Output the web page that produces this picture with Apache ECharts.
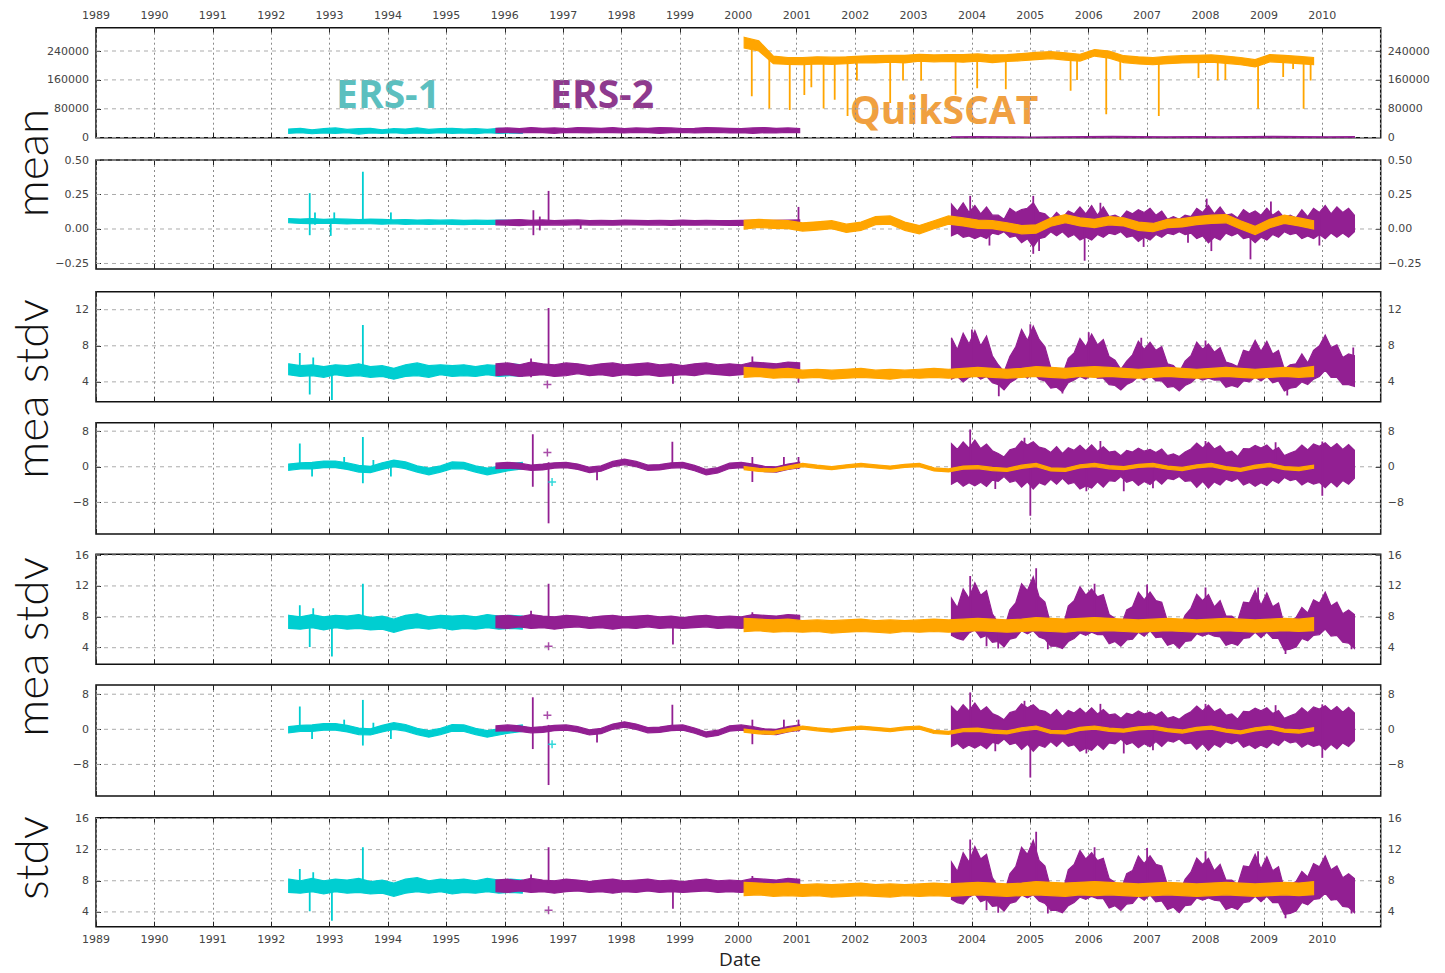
<!DOCTYPE html>
<html><head><meta charset="utf-8">
<script src="https://cdn.jsdelivr.net/npm/echarts@6/dist/echarts.min.js"></script>
<style>html,body{margin:0;padding:0;background:#fff}#c{width:1445px;height:973px}</style>
</head><body><div id="c"></div>
<script>
// ---------- sampling times of the envelopes ----------
const ers1Time = {x0: 1992.3, step: 0.2};     // ERS-1
const ers2aTime = {x0: 1995.85, step: 0.2};   // ERS-2 (first period)
const qsTime = {x0: 2000.1, step: 0.25};      // QuikSCAT
const ers2bTime = {x0: 2003.65, step: 0.1};   // ERS-2 (second period)
const cntErs2bTime = {x0: 2003.65, step: 0.46};

// ---------- x tick labels ----------
const yearLabels = ['1989','1990','1991','1992','1993','1994','1995','1996','1997','1998','1999','2000','2001','2002','2003','2004','2005','2006','2007','2008','2009','2010'];

// ---------- panel 1 : counts ----------
const cntTicks = [0, 80000, 160000, 240000];
const cntLabels = ['0','80000','160000','240000'];
const cntErs1Lo = [12000,14000,11000,13000,12000,14000,10000,13000,12000,14000,11000,13000,12000,14000,12000,13000,11000,14000,12000,13000,12000];
const cntErs1Hi = [24000,26000,22000,25000,27000,23000,25000,26000,22000,25000,24000,27000,23000,25000,26000,24000,25000,23000,26000,24000,25000];
const cntErs2aLo = [14000,15000,13000,15000,14000,12000,15000,14000,13000,15000,14000,13000,15000,14000,12000,14000,15000,13000,14000,15000,13000,14000,12000,14000,13000,15000,14000];
const cntErs2aHi = [26000,27000,25000,28000,26000,27000,25000,28000,27000,26000,28000,25000,27000,26000,28000,27000,25000,26000,28000,27000,26000,25000,27000,28000,26000,27000,25000];
const cntErs2bLo = [0,0,0,0,0,0,0,0,0,0,0,0,0,0,0,0];
const cntErs2bHi = [2500,3000,2500,2000,2500,3000,3500,3000,2500,3000,2500,3000,3500,3000,2500,3000];
const cntQsLo = [248000,240000,205000,203000,202000,204000,203000,205000,208000,207000,209000,207000,212000,210000,211000,209000,212000,208000,211000,213000,216000,219000,215000,212000,226000,220000,208000,204000,202000,205000,207000,208000,209000,206000,202000,196000,210000,208000,205000,202000];
const cntQsHi = [278000,268000,226000,222000,222000,224000,223000,224000,226000,227000,228000,228000,231000,229000,230000,230000,232000,229000,230000,233000,236000,238000,235000,231000,244000,240000,227000,224000,222000,225000,227000,228000,229000,226000,222000,216000,230000,228000,225000,222000];
const cntQsSpikes = [[2000.23,115000,250000],[2000.53,81000,225000],[2000.88,77000,215000],[2001.13,118000,213000],[2001.25,140000,213000],[2001.46,81000,214000],[2001.65,105000,214000],[2001.87,60000,215000],[2002.03,158000,218000],[2002.6,96000,219000],[2002.82,158000,218000],[2003.13,158000,222000],[2003.72,119000,221000],[2004.09,137000,222000],[2004.58,134000,221000],[2005.69,130000,226000],[2005.8,160000,222000],[2006.3,65000,232000],[2006.54,160000,218000],[2007.2,60000,212000],[2007.88,165000,218000],[2008.21,158000,218000],[2008.34,160000,216000],[2008.9,80000,206000],[2009.33,168000,218000],[2009.5,190000,217000],[2009.68,80000,215000],[2009.8,158000,212000]];

// ---------- panel 2 : mean ----------
const meanTicks = [-0.25, 0, 0.25, 0.5];
const meanLabels = ['\u22120.25','0.00','0.25','0.50'];
const meanErs1Lo = [0.045,0.040,0.038,0.042,0.040,0.036,0.040,0.038,0.035,0.038,0.034,0.036,0.033,0.036,0.034,0.032,0.035,0.033,0.035,0.034,0.036];
const meanErs1Hi = [0.075,0.072,0.076,0.070,0.074,0.071,0.068,0.072,0.069,0.066,0.068,0.065,0.067,0.064,0.066,0.063,0.065,0.062,0.064,0.063,0.062];
const meanErs1Spikes = [[1992.66,-0.045,0.26],[1992.75,0.03,0.12],[1993.02,-0.05,0.06],[1993.08,0.05,0.12],[1993.57,0.05,0.415],[1994.05,0.05,0.12]];
const meanErs2aLo = [0.030,0.028,0.025,0.030,0.027,0.030,0.028,0.032,0.028,0.030,0.027,0.030,0.029,0.028,0.030,0.026,0.029,0.027,0.030,0.028,0.026,0.028,0.025,0.027,0.026,0.028,0.030];
const meanErs2aHi = [0.062,0.065,0.068,0.062,0.066,0.060,0.064,0.066,0.061,0.063,0.060,0.064,0.062,0.060,0.063,0.061,0.064,0.060,0.062,0.061,0.060,0.063,0.062,0.060,0.062,0.064,0.066];
const meanErs2aSpikes = [[1996.49,-0.045,0.136],[1996.6,-0.01,0.09],[1996.75,0.04,0.276],[1997.3,0.0,0.05],[2001.03,0.03,0.16]];
const meanQsLo = [0.000,0.012,0.005,0.002,-0.015,-0.008,0.002,-0.025,-0.010,0.032,0.035,-0.010,-0.035,0.002,0.035,0.022,0.005,0.002,-0.015,-0.035,-0.030,0.020,0.045,0.022,0.010,0.030,0.022,-0.010,-0.020,0.010,0.015,0.032,0.040,0.045,0.000,-0.040,0.010,0.040,0.022,0.000];
const meanQsHi = [0.062,0.070,0.065,0.060,0.045,0.052,0.060,0.035,0.050,0.090,0.095,0.050,0.025,0.060,0.095,0.080,0.065,0.060,0.045,0.025,0.030,0.080,0.105,0.080,0.070,0.090,0.080,0.050,0.040,0.070,0.075,0.090,0.100,0.105,0.060,0.020,0.070,0.100,0.080,0.060];
const meanErs2bLo = [-0.05,-0.03,-0.06,-0.05,-0.07,-0.05,-0.07,-0.03,-0.04,-0.02,-0.06,-0.05,-0.10,-0.07,-0.13,-0.07,-0.06,-0.02,-0.05,-0.02,-0.06,-0.04,-0.08,-0.06,-0.08,-0.04,-0.06,-0.03,-0.04,-0.02,-0.06,-0.05,-0.09,-0.06,-0.08,-0.04,-0.06,-0.03,-0.04,-0.02,-0.04,-0.03,-0.07,-0.05,-0.10,-0.06,-0.08,-0.03,-0.05,-0.03,-0.07,-0.06,-0.10,-0.06,-0.08,-0.04,-0.06,-0.02,-0.04,-0.03,-0.07,-0.05,-0.07,-0.04,-0.07,-0.03,-0.06,-0.03,-0.06,-0.02];
const meanErs2bHi = [0.18,0.13,0.19,0.12,0.17,0.11,0.16,0.10,0.10,0.07,0.15,0.12,0.14,0.15,0.19,0.12,0.11,0.07,0.12,0.08,0.13,0.11,0.16,0.11,0.17,0.10,0.16,0.09,0.10,0.08,0.13,0.11,0.14,0.12,0.15,0.10,0.13,0.07,0.09,0.07,0.10,0.09,0.15,0.12,0.17,0.11,0.16,0.10,0.11,0.08,0.14,0.11,0.13,0.10,0.15,0.10,0.13,0.08,0.10,0.08,0.14,0.09,0.15,0.12,0.17,0.11,0.16,0.12,0.15,0.10];
const meanErs2bSpikes = [[2003.97,0.05,0.24],[2004.3,-0.12,0.0],[2005.05,-0.18,0.24],[2005.15,-0.16,0.0],[2005.93,-0.23,0.05],[2006.2,0.0,0.19],[2006.94,-0.13,0.05],[2007.7,-0.1,0.0],[2008.02,0.05,0.22],[2008.1,-0.16,0.0],[2008.77,-0.22,0.0],[2009.12,0.0,0.2],[2009.95,-0.12,0.1]];

// ---------- panel 3 : mean stdv ----------
const msTicks = [4, 8, 12];
const msLabels = ['4','8','12'];
const msErs1Lo = [4.8,4.6,4.7,4.5,4.8,4.6,4.7,4.5,4.6,4.3,4.6,4.7,4.5,4.8,4.6,4.7,4.6,4.8,4.6,4.7,4.6];
const msErs1Hi = [6.0,5.8,5.9,5.7,5.9,5.8,6.0,5.7,5.8,5.5,5.9,6.1,5.8,5.9,5.8,5.9,5.7,5.9,5.8,6.0,5.9];
const msErs1Spikes = [[1992.49,5,7.2],[1992.66,2.6,5.5],[1992.72,5,6.7],[1993.04,2.0,5.5],[1993.57,5.5,10.3]];
const msErs2aLo = [4.7,4.8,4.6,4.7,4.8,4.6,4.7,4.9,4.7,4.8,4.6,4.8,4.7,4.8,4.6,4.7,4.8,4.7,4.9,4.8,4.7,4.8,4.9,5.0,5.0,4.9,5.0];
const msErs2aHi = [6.0,6.1,5.9,6.2,6.0,5.9,6.1,6.0,5.8,6.0,6.1,5.9,6.0,6.1,5.9,6.0,5.8,6.0,6.1,5.9,6.0,5.9,6.2,6.1,6.0,6.2,6.1];
const msErs2aSpikes = [[1996.45,4.5,6.6],[1996.75,5.5,12.2],[1998.88,3.8,5.2],[2000.24,5.5,6.8],[2001.03,3.9,5.2]];
const msErs2aPlus = [[1996.73,3.7]];
const msQsLo = [4.5,4.6,4.4,4.5,4.4,4.5,4.3,4.4,4.5,4.4,4.3,4.5,4.4,4.5,4.4,4.5,4.6,4.5,4.4,4.5,4.6,4.5,4.4,4.6,4.5,4.6,4.5,4.4,4.5,4.6,4.5,4.4,4.5,4.6,4.5,4.4,4.5,4.6,4.5,4.6];
const msQsHi = [5.6,5.5,5.4,5.5,5.3,5.4,5.3,5.4,5.5,5.3,5.4,5.3,5.4,5.5,5.4,5.5,5.6,5.5,5.4,5.5,5.7,5.6,5.5,5.6,5.7,5.6,5.5,5.4,5.5,5.6,5.5,5.4,5.5,5.6,5.5,5.4,5.5,5.6,5.5,5.7];
const msErs2bLo = [4.3,4.6,4.0,4.5,4.8,4.3,4.6,3.9,3.7,3.1,3.9,4.3,4.9,4.4,5.0,4.3,4.1,3.3,3.4,2.9,3.9,4.2,4.6,4.3,4.8,4.4,4.4,3.7,3.6,3.1,3.7,4.0,4.6,4.2,4.7,4.1,4.1,3.4,3.5,3.0,3.6,3.9,4.5,4.2,4.4,4.2,4.2,3.4,3.6,3.4,4.1,4.0,4.5,4.1,4.6,3.9,4.1,3.0,3.3,3.4,4.0,3.7,4.3,4.6,5.3,4.5,4.5,3.7,3.7,3.5];
const msErs2bHi = [8.9,7.6,9.4,8.2,9.7,8.0,9.1,6.9,5.9,5.1,6.8,7.9,9.8,8.6,10.2,8.7,7.9,5.6,5.5,4.8,6.6,7.2,8.8,7.9,9.3,8.1,8.7,6.8,6.4,5.4,6.3,7.0,8.5,7.6,8.4,7.5,7.9,6.0,5.8,5.1,6.3,6.9,8.4,7.6,8.2,7.3,7.8,6.2,6.0,5.7,7.5,7.3,8.6,7.4,8.5,7.1,7.5,5.4,5.9,6.0,7.1,6.1,7.5,8.0,9.2,7.8,8.1,6.7,7.1,6.9];
const msErs2bSpikes = [[2004.0,6,9.8],[2004.46,2.4,5],[2005.0,6,10.4],[2005.55,2.7,4.5],[2006.0,6,9.5],[2006.9,6,8.9],[2008.0,6,8.6],[2009.4,2.5,4.5],[2010.53,4,7.8]];

// ---------- panels 4 and 6 : mean difference ----------
const mdTicks = [-8, 0, 8];
const mdLabels = ['\u22128','0','8'];
const mdErs1Lo = [-0.8,-0.5,-0.5,-0.2,-0.2,-0.6,-1.2,-1.3,-0.6,0.0,-0.4,-1.2,-1.8,-1.2,-0.4,-0.5,-1.2,-1.8,-1.3,-0.8,-0.5];
const mdErs1Hi = [0.6,0.9,1.0,1.3,1.3,0.9,0.3,0.1,0.9,1.5,1.1,0.2,-0.3,0.2,1.1,1.0,0.2,-0.3,0.1,0.7,1.0];
const mdErs1Spikes = [[1992.49,0,5.2],[1992.7,-2.2,0.5],[1993.25,0,2.2],[1993.57,-3.7,6.7],[1993.75,0,1.5],[1994.05,-2.2,0.5]];
const mdErs1Plus = [[1996.81,-3.4]];
const mdErs2aLo = [-0.4,-0.3,-0.5,-0.8,-0.7,-0.3,-0.2,-0.6,-1.3,-1.0,0.0,0.5,0.0,-0.8,-0.7,-0.3,-0.2,-0.9,-1.8,-1.4,-0.4,-0.2,-0.6,-1.1,-1.2,-0.6,-0.2];
const mdErs2aHi = [0.8,1.0,0.8,0.4,0.6,0.9,1.0,0.6,-0.1,0.2,1.2,1.7,1.2,0.4,0.5,0.9,1.0,0.3,-0.6,-0.2,0.8,1.0,0.6,0.1,0.0,0.6,1.0];
const mdErs2aSpikes = [[1996.48,-4.5,7.3],[1996.75,-12.7,1.0],[1997.58,-3.0,0],[1998.87,0,5.6],[2000.24,-3.4,2.2],[2000.78,0,2.2],[2001.03,-0.5,2.2]];
const mdErs2aPlus = [[1996.73,3.2]];
const mdQsLo = [-0.65,-1.05,-1.15,-0.55,0.05,-0.35,-0.65,-0.25,0.05,-0.25,-0.55,-0.15,0.05,-0.95,-1.15,-0.55,-0.45,-0.85,-1.05,-0.35,0.05,-0.95,-1.05,-0.25,0.05,-0.45,-0.65,-0.15,0.05,-0.55,-0.85,-0.25,0.05,-0.65,-1.05,-0.35,0.05,-0.65,-0.85,-0.35];
const mdQsHi = [0.05,-0.35,-0.45,0.15,0.75,0.35,0.05,0.45,0.75,0.45,0.15,0.55,0.75,-0.25,-0.45,0.15,0.25,-0.15,-0.35,0.35,0.75,-0.25,-0.35,0.45,0.75,0.25,0.05,0.55,0.75,0.15,-0.15,0.45,0.75,0.05,-0.35,0.35,0.75,0.05,-0.15,0.35];
const mdErs2bLo = [-3.9,-3.2,-4.4,-3.6,-4.3,-3.5,-4.4,-3.0,-3.3,-2.2,-3.5,-3.1,-4.6,-3.4,-5.0,-3.6,-4.1,-2.8,-3.9,-2.6,-3.9,-3.5,-5.0,-4.3,-4.8,-3.4,-4.6,-3.1,-3.3,-2.2,-3.5,-3.0,-4.2,-3.3,-4.0,-2.8,-3.9,-2.6,-2.9,-2.2,-3.3,-3.1,-4.6,-3.3,-4.8,-3.4,-4.1,-2.8,-3.3,-2.6,-4.1,-3.5,-4.4,-3.6,-4.2,-3.0,-3.7,-2.4,-3.1,-2.8,-4.1,-3.3,-3.9,-3.5,-4.7,-3.4,-4.5,-3.1,-3.9,-2.6];
const mdErs2bHi = [5.2,3.9,5.6,4.2,6.0,4.1,5.1,3.6,3.0,2.2,3.8,4.2,5.8,4.9,5.6,4.4,4.1,3.2,4.5,3.0,4.3,3.7,4.8,3.6,4.9,3.5,4.5,3.3,3.5,2.5,3.7,3.3,4.2,3.5,3.9,3.2,4.0,2.5,2.9,2.3,3.3,4.0,5.3,4.2,5.5,4.0,4.7,3.2,3.5,2.3,4.1,4.0,4.8,4.2,4.9,3.6,4.3,2.5,3.1,3.6,4.9,3.8,5.1,4.6,5.4,4.2,5.2,3.9,5.0,3.7];
const mdErs2bSpikes = [[2003.97,0,8.4],[2004.4,-5,0],[2004.9,0,6.5],[2005.0,-11,0],[2005.96,-5.5,0],[2006.2,0,5.8],[2006.6,-5.5,0],[2007.1,-4.8,0],[2008.0,0,5.8],[2009.2,0,5.5],[2010.0,-6.5,5.7]];

// ---------- panels 5 and 7 : stdv ----------
const sdTicks = [4, 8, 12, 16];
const sdLabels = ['4','8','12','16'];
const sdErs1Lo = [6.5,6.4,6.6,6.3,6.6,6.4,6.5,6.3,6.4,6.0,6.4,6.6,6.4,6.6,6.3,6.5,6.4,6.6,6.4,6.5,6.4];
const sdErs1Hi = [8.2,8.0,8.3,8.0,8.2,8.1,8.3,7.9,8.1,7.7,8.2,8.4,8.0,8.2,8.1,8.2,8.0,8.3,8.1,8.2,8.1];
const sdErs1Spikes = [[1992.49,7.5,9.5],[1992.66,4.1,7],[1992.72,7.5,9.1],[1993.04,2.85,7],[1993.57,7.5,12.3]];
const sdErs2aLo = [6.6,6.5,6.7,6.5,6.6,6.4,6.6,6.7,6.5,6.6,6.4,6.6,6.5,6.7,6.5,6.6,6.5,6.6,6.7,6.5,6.6,6.5,6.7,6.8,6.7,6.6,6.8];
const sdErs2aHi = [8.1,8.2,8.0,8.3,8.1,8.0,8.2,8.1,7.9,8.1,8.2,8.0,8.1,8.2,8.0,8.1,7.9,8.1,8.2,8.0,8.1,8.0,8.3,8.2,8.1,8.3,8.2];
const sdErs2aSpikes = [[1996.45,6.5,8.8],[1996.75,7.5,12.3],[1998.88,4.4,7],[2000.24,7.5,8.6]];
const sdErs2aPlus = [[1996.75,4.2]];
const sdQsLo = [6.1,6.2,6.0,6.1,6.0,6.1,5.9,6.0,6.1,6.0,5.9,6.1,6.0,6.1,6.0,6.1,6.2,6.1,6.0,6.1,6.2,6.1,6.0,6.2,6.1,6.2,6.1,6.0,6.1,6.2,6.1,6.0,6.1,6.2,6.1,6.0,6.1,6.2,6.1,6.2];
const sdQsHi = [7.8,7.7,7.6,7.7,7.5,7.6,7.5,7.6,7.7,7.5,7.6,7.5,7.6,7.7,7.6,7.7,7.8,7.7,7.6,7.7,7.9,7.8,7.7,7.8,7.9,7.8,7.7,7.6,7.7,7.8,7.7,7.6,7.7,7.8,7.7,7.6,7.7,7.8,7.7,7.9];
const sdErs2bLo = [5.6,5.2,5.0,5.9,6.3,5.3,5.6,4.7,4.8,4.1,5.1,5.3,6.2,5.8,6.2,5.4,5.1,4.2,4.2,3.9,4.8,5.2,5.9,5.6,6.0,5.7,5.7,4.5,4.8,4.2,5.0,5.1,6.0,5.5,6.2,5.3,5.4,4.3,4.6,3.9,4.8,4.9,5.8,5.5,5.8,5.5,5.4,4.3,4.6,4.3,5.2,5.3,6.0,5.3,6.0,5.2,5.2,3.7,3.8,4.1,5.2,4.9,5.6,5.7,6.4,5.5,5.6,4.7,4.6,3.9];
const sdErs2bHi = [10.4,9.2,11.6,10.4,12.4,10.8,11.4,8.4,7.2,6.4,8.9,9.8,12.3,11.4,13.2,10.6,9.9,7.0,7.1,6.5,9.4,10.1,11.9,10.8,11.6,10.6,10.9,8.3,7.8,6.8,8.9,9.3,11.2,10.2,11.2,10.1,9.9,7.4,7.3,6.4,8.2,9.1,10.9,10.1,10.9,9.3,10.1,8.1,8.1,7.5,9.9,9.8,11.4,9.5,11.1,9.3,9.8,6.9,7.5,7.9,9.2,8.5,10.2,9.8,11.2,9.4,9.9,8.4,8.9,8.3];
const sdErs2bSpikes = [[2003.97,8,13.3],[2004.25,4.2,6.5],[2004.45,3.9,6],[2005.1,8,14.3],[2005.3,3.8,6],[2006.1,8,12.3],[2007.0,8,12.2],[2008.0,8,11.8],[2008.9,8,11.8],[2009.37,3.2,6],[2010.5,3.8,6.5]];

// ---------- styles / layout ----------
const C_ERS1 = '#00ced1', C_ERS2 = '#921f92', C_QS = '#ffa500';
const Z = {[C_ERS1]: 2, [C_ERS2]: 3, [C_QS]: 4};
const layout = [
  {top: 27.7, height: 110, min: 0, max: 304500},
  {top: 160, height: 109, min: -0.29, max: 0.5},
  {top: 291.7, height: 110, min: 1.8, max: 14},
  {top: 422.7, height: 111.3, min: -15.1, max: 9.9},
  {top: 554.3, height: 110, min: 1.85, max: 16.1},
  {top: 685, height: 111, min: -15.2, max: 10.1},
  {top: 817.7, height: 109, min: 2.1, max: 16.1}
];

const panelCnt = {ticks: cntTicks, labels: cntLabels,
  bands: [[C_ERS1, ers1Time, cntErs1Lo, cntErs1Hi], [C_ERS2, ers2aTime, cntErs2aLo, cntErs2aHi], [C_ERS2, cntErs2bTime, cntErs2bLo, cntErs2bHi], [C_QS, qsTime, cntQsLo, cntQsHi]],
  spikes: [[C_QS, cntQsSpikes]], plus: []};
const panelMean = {ticks: meanTicks, labels: meanLabels,
  bands: [[C_ERS1, ers1Time, meanErs1Lo, meanErs1Hi], [C_ERS2, ers2aTime, meanErs2aLo, meanErs2aHi], [C_ERS2, ers2bTime, meanErs2bLo, meanErs2bHi], [C_QS, qsTime, meanQsLo, meanQsHi]],
  spikes: [[C_ERS1, meanErs1Spikes], [C_ERS2, meanErs2aSpikes], [C_ERS2, meanErs2bSpikes]], plus: []};
const panelMs = {ticks: msTicks, labels: msLabels,
  bands: [[C_ERS1, ers1Time, msErs1Lo, msErs1Hi], [C_ERS2, ers2aTime, msErs2aLo, msErs2aHi], [C_ERS2, ers2bTime, msErs2bLo, msErs2bHi], [C_QS, qsTime, msQsLo, msQsHi]],
  spikes: [[C_ERS1, msErs1Spikes], [C_ERS2, msErs2aSpikes], [C_ERS2, msErs2bSpikes]], plus: [[C_ERS2, msErs2aPlus]]};
const panelMd = {ticks: mdTicks, labels: mdLabels,
  bands: [[C_ERS1, ers1Time, mdErs1Lo, mdErs1Hi], [C_ERS2, ers2aTime, mdErs2aLo, mdErs2aHi], [C_ERS2, ers2bTime, mdErs2bLo, mdErs2bHi], [C_QS, qsTime, mdQsLo, mdQsHi]],
  spikes: [[C_ERS1, mdErs1Spikes], [C_ERS2, mdErs2aSpikes], [C_ERS2, mdErs2bSpikes]], plus: [[C_ERS2, mdErs2aPlus], [C_ERS1, mdErs1Plus]]};
const panelSd = {ticks: sdTicks, labels: sdLabels,
  bands: [[C_ERS1, ers1Time, sdErs1Lo, sdErs1Hi], [C_ERS2, ers2aTime, sdErs2aLo, sdErs2aHi], [C_ERS2, ers2bTime, sdErs2bLo, sdErs2bHi], [C_QS, qsTime, sdQsLo, sdQsHi]],
  spikes: [[C_ERS1, sdErs1Spikes], [C_ERS2, sdErs2aSpikes], [C_ERS2, sdErs2bSpikes]], plus: [[C_ERS2, sdErs2aPlus]]};
const panels = [panelCnt, panelMean, panelMs, panelMd, panelSd, panelMd, panelSd];

const LABEL_FONT = {fontFamily: 'DejaVu Sans', fontSize: 11, color: '#444'};

const grid = [], xAxis = [], yAxis = [], series = [];
panels.forEach((p, g) => {
  const L = layout[g];
  grid.push({left: 96, right: 64.3, top: L.top, height: L.height, show: true,
    borderColor: '#111', borderWidth: 1.5, backgroundColor: 'transparent', containLabel: false, outerBoundsMode: 'none'});
  const xBase = {gridIndex: g, type: 'value', min: 1989, max: 2011, interval: 1,
    axisLine: {show: false, onZero: false},
    axisTick: {show: true, inside: true, length: 5, lineStyle: {color: '#222', width: 1}}};
  xAxis.push(Object.assign({}, xBase, {position: 'bottom',
    axisLabel: Object.assign({show: g === 6, margin: 7, showMaxLabel: false,
      formatter: v => yearLabels[Math.round(v - 1989)] || ''}, LABEL_FONT),
    splitLine: {show: true, lineStyle: {color: '#8a8a8a', width: 1, type: [2, 3]}}}));
  xAxis.push(Object.assign({}, xBase, {position: 'top',
    axisLabel: Object.assign({show: g === 0, margin: 7, showMaxLabel: false,
      formatter: v => yearLabels[Math.round(v - 1989)] || ''}, LABEL_FONT),
    splitLine: {show: false}}));
  const fmt = v => { const i = p.ticks.findIndex(t => Math.abs(t - v) < 1e-9); return i >= 0 ? p.labels[i] : ''; };
  ['left', 'right'].forEach(pos => {
    yAxis.push({gridIndex: g, type: 'value', min: L.min, max: L.max, position: pos,
      axisLine: {show: false, onZero: false},
      axisTick: {show: true, inside: true, length: 5, customValues: p.ticks, lineStyle: {color: '#222'}},
      axisLabel: Object.assign({show: true, margin: 7, customValues: p.ticks, formatter: fmt}, LABEL_FONT),
      splitLine: {show: false}});
  });
  const xi = 2 * g, yi = 2 * g;
  // horizontal dashed grid lines at the tick values
  series.push({type: 'custom', xAxisIndex: xi, yAxisIndex: yi, z: 1, silent: true,
    data: p.ticks.map(v => [1989, v]),
    renderItem: (params, api) => {
      const a = api.coord([1989, api.value(1)]), b = api.coord([2011, api.value(1)]);
      return {type: 'line', shape: {x1: a[0], y1: a[1], x2: b[0], y2: b[1]},
        style: {stroke: '#ababab', lineWidth: 1, lineDash: [4, 4]}};
    }});
  // envelopes
  p.bands.forEach(([color, t, lo, hi]) => {
    const pts = lo.map((v, i) => [t.x0 + i * t.step, v, hi[i]]);
    series.push({type: 'custom', xAxisIndex: xi, yAxisIndex: yi, z: Z[color], silent: true, clip: true,
      data: pts, encode: {x: 0, y: [1, 2]},
      renderItem: (params, api) => {
        if (params.dataIndex !== 0) return;
        const top = pts.map(q => api.coord([q[0], q[2]]));
        const bot = pts.map(q => api.coord([q[0], q[1]])).reverse();
        return {type: 'polygon', shape: {points: top.concat(bot)},
          style: {fill: color, stroke: color, lineWidth: 1.2, lineJoin: 'miter'}};
      }});
  });
  // spikes
  p.spikes.forEach(([color, list]) => {
    series.push({type: 'custom', xAxisIndex: xi, yAxisIndex: yi, z: Z[color], silent: true, clip: true,
      data: list, encode: {x: 0, y: [1, 2]},
      renderItem: (params, api) => {
        const a = api.coord([api.value(0), api.value(1)]), b = api.coord([api.value(0), api.value(2)]);
        return {type: 'line', shape: {x1: a[0], y1: a[1], x2: b[0], y2: b[1]},
          style: {stroke: color, lineWidth: 1.8}};
      }});
  });
  // plus markers
  p.plus.forEach(([color, list]) => {
    series.push({type: 'scatter', xAxisIndex: xi, yAxisIndex: yi, z: 5, silent: true, data: list,
      symbol: 'path://M0,5L10,5M5,0L5,10', symbolSize: 8,
      itemStyle: {color: 'transparent', borderColor: color, borderWidth: 1.5}});
  });
});

const bigLabel = (text, x, y) => ({type: 'text', x, y, rotation: Math.PI / 2, silent: true,
  style: {text, fontFamily: 'Lato', fontWeight: 300, fontSize: 46, fill: '#111', align: 'center', verticalAlign: 'middle'}});
const tag = (text, x, y, fill) => ({type: 'text', x, y, silent: true,
  style: {text, fontFamily: 'Open Sans', fontWeight: 'bold', fontSize: 39, fill, align: 'center', verticalAlign: 'middle'}});

const chart = echarts.init(document.getElementById('c'), null, {renderer: 'svg'});
chart.setOption({
  animation: false,
  backgroundColor: '#fff',
  grid, xAxis, yAxis, series,
  graphic: [
    bigLabel('mean', 30, 163),
    bigLabel('mea stdv', 30, 389),
    bigLabel('mea stdv', 30, 647),
    bigLabel('stdv', 30, 858),
    tag('ERS-1', 388, 92, '#5cbfbf'),
    tag('ERS-2', 602, 92, '#8e3a8e'),
    tag('QuikSCAT', 944, 108, '#f0a040'),
    {type: 'text', x: 740, y: 959, silent: true,
      style: {text: 'Date', fontFamily: 'Open Sans', fontSize: 19, fill: '#222', align: 'center', verticalAlign: 'middle'}}
  ]
});
</script></body></html>
